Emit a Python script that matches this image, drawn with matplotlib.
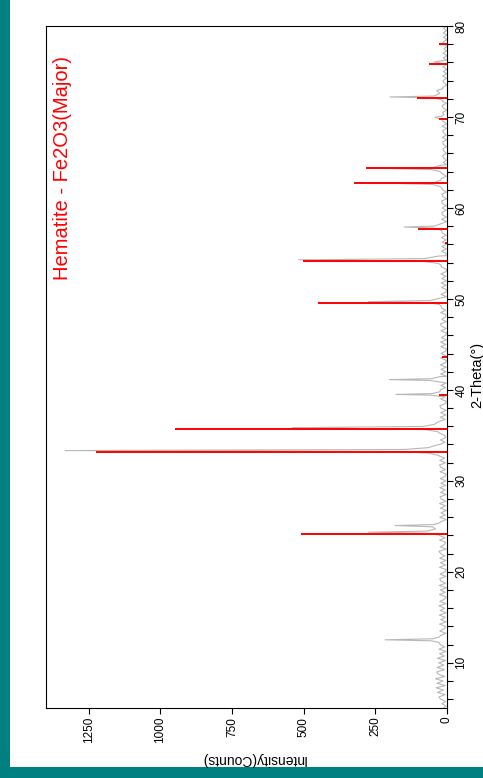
import numpy as np
import matplotlib
matplotlib.use("Agg")
import matplotlib.pyplot as plt
from matplotlib.patches import Rectangle

plt.rcParams['font.family'] = ['Liberation Sans', 'DejaVu Sans']

# measured pattern: background counts every 0.25 deg from 5 to 80
bg_start, bg_step = 5.0, 0.25
bg_counts = [
    14, 3, 18, 5, 22, 28, 7, 33, 12, 38, 6, 35, 14, 40, 8, 31, 36, 9, 34, 11,
    29, 5, 33, 9, 26, 4, 28, 8, 24, 3, 27, 7, 23, 4, 25, 9, 5, 26, 3, 22,
    6, 27, 3, 24, 8, 28, 4, 25, 9, 3, 26, 6, 23, 2, 27, 5, 22, 25, 4, 24,
    7, 3, 26, 5, 23, 4, 25, 8, 22, 28, 3, 24, 9, 5, 26, 7, 27, 10, 4, 25,
    24, 5, 22, 3, 25, 6, 21, 2, 23, 5, 26, 4, 20, 24, 3, 22, 6, 25, 5, 21,
    4, 23, 7, 3, 24, 6, 22, 26, 5, 25, 8, 28, 30, 11, 27, 9, 25, 7, 23, 5,
    8, 26, 10, 29, 33, 12, 24, 6, 23, 4, 22, 3, 21, 25, 5, 2, 22, 6, 24, 4,
    23, 5, 21, 3, 24, 6, 2, 22, 4, 21, 3, 23, 5, 2, 22, 3, 20, 5, 2, 21,
    4, 22, 2, 20, 5, 1, 21, 3, 19, 23, 2, 18, 6, 3, 22, 4, 19, 21, 24, 7,
    5, 2, 21, 4, 1, 19, 3, 20, 2, 18, 4, 21, 3, 1, 19, 22, 6, 24, 8, 4,
    3, 19, 2, 18, 1, 17, 3, 20, 2, 16, 18, 2, 21, 4, 1, 19, 2, 16, 18, 3,
    17, 2, 16, 19, 1, 15, 18, 2, 16, 20, 2, 17, 3, 19, 2, 16, 18, 21, 5, 2,
    13, 2, 12, 15, 3, 11, 14, 2, 13, 15, 1, 16, 3, 11, 15, 2, 17, 1, 14, 16,
    2, 11, 15, 1, 14, 17, 3, 16, 19, 4, 12, 2, 11, 15, 1, 10, 14, 2, 15, 1,
    13, 1, 14, 2, 15, 1, 13, 0, 14, 2, 10, 1, 11, 14, 0, 12, 1, 13, 2, 12,
    1,
]

# peaks of the measured pattern (2-theta, counts)
peak_theta = [
    [12.25, 12.42, 12.53, 12.64, 12.85],
    [24.05, 24.25, 24.36, 24.48, 24.7, 24.95, 25.09, 25.2, 25.4],
    [32.8, 33.05, 33.22, 33.33, 33.45, 33.65, 33.95],
    [35.4, 35.65, 35.85, 35.98, 36.2, 36.5],
    [39.3, 39.42, 39.5, 39.6, 39.8],
    [40.9, 41.04, 41.13, 41.23, 41.45],
    [49.4, 49.6, 49.7, 49.82, 50.05],
    [53.9, 54.15, 54.3, 54.43, 54.7],
    [57.6, 57.8, 57.9, 58.0, 58.25],
    [62.35, 62.58, 62.68, 62.8, 63.05],
    [64.0, 64.22, 64.32, 64.44, 64.7],
    [69.7, 69.85, 69.95, 70.1],
    [71.9, 72.1, 72.2, 72.3, 72.6, 72.9, 73.1],
    [75.8, 75.95, 76.05, 76.2],
]
peak_counts = [
    [28, 55, 216, 50, 26],
    [30, 75, 274, 70, 40, 50, 181, 45, 25],
    [30, 65, 170, 1332, 150, 65, 35],
    [32, 80, 541, 85, 45, 30],
    [28, 55, 178, 50, 25],
    [30, 60, 201, 55, 26],
    [28, 70, 274, 60, 28],
    [30, 90, 518, 80, 32],
    [25, 48, 149, 45, 22],
    [25, 50, 160, 45, 22],
    [25, 55, 190, 50, 22],
    [18, 30, 42, 18],
    [20, 50, 199, 45, 25, 36, 15],
    [15, 25, 45, 15],
]

# Hematite reference lines
ref_theta = [24.2, 33.19, 35.75, 39.4, 43.66, 49.6, 54.18, 56.2, 57.66,
             62.7, 64.36, 69.8, 72.05, 75.8, 78.0]
ref_counts = [509, 1224, 950, 27, 18, 449, 501, 8, 102,
              323, 283, 27, 106, 64, 28]

# merge background and peaks
bg_theta = bg_start + bg_step * np.arange(len(bg_counts))
keep = np.ones(len(bg_theta), dtype=bool)
for pt in peak_theta:
    keep &= ~((bg_theta >= pt[0]) & (bg_theta <= pt[-1]))
theta = np.concatenate([bg_theta[keep]] + [np.array(p) for p in peak_theta])
counts = np.concatenate([np.array(bg_counts)[keep]] + [np.array(c) for c in peak_counts])
order = np.argsort(theta)
theta, counts = theta[order], counts[order]

fig = plt.figure(figsize=(4.83, 7.78), dpi=100, facecolor='#008080')
fig.patches.append(Rectangle((10 / 483, 11.3 / 778), 1, 1, transform=fig.transFigure,
                             facecolor='white', edgecolor='none', zorder=-10))

ax = fig.add_axes([45.7 / 483, 1 - 708.3 / 778, 401.3 / 483, 682.3 / 778])
ax.set_zorder(1)
ax.plot(counts, theta, color='#b8b8b8', lw=0.8)
ax.hlines(ref_theta, 0, ref_counts, color='#ff0000', lw=1.4)

ax.set_xlim(1400, 0)
ax.set_ylim(5, 80)

ax.yaxis.tick_right()
ax.yaxis.set_label_position('right')
ax.set_yticks([10, 20, 30, 40, 50, 60, 70, 80])
ax.set_yticks(np.arange(6, 80, 2), minor=True)
ax.set_xticks([0, 250, 500, 750, 1000, 1250])
ax.tick_params(which='both', direction='out', length=4, width=0.8, labelsize=8.5, pad=2)
ax.tick_params(axis='y', which='minor', labelright=False)
for lbl in ax.get_yticklabels():
    lbl.set_rotation(90)
    lbl.set_va('center')
for lbl in ax.get_xticklabels():
    lbl.set_rotation(90)
    lbl.set_ha('center')
    lbl.set_va('top')
for s in ax.spines.values():
    s.set_linewidth(0.8)

ax.set_xlabel('Intensity(Counts)', fontsize=10, rotation=180, ha='center', va='center')
ax.xaxis.set_label_coords(0.5166, -0.0743)
ax.set_ylabel('2-Theta(°)', fontsize=10.5, rotation=90, ha='center', va='center')
ax.yaxis.set_label_coords(1.0748, 0.4885)

ax.text(0.0431, 0.7926, 'Hematite - Fe2O3(Major)', color='#ff0000', fontsize=14.5,
        rotation=90, ha='center', va='center', transform=ax.transAxes)

fig.savefig('out.png', dpi=100, facecolor=fig.get_facecolor())
